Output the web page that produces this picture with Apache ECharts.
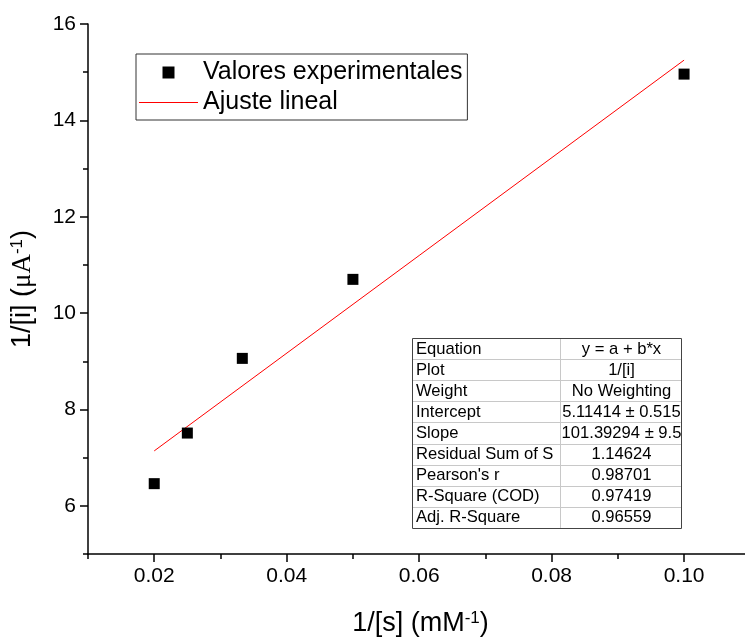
<!DOCTYPE html>
<html>
<head>
<meta charset="utf-8">
<script src="https://cdn.jsdelivr.net/npm/echarts@6/dist/echarts.min.js"></script>
<style>html,body{margin:0;padding:0;background:#fff}#c{width:745px;height:642px}</style>
</head>
<body>
<div id="c"></div>
<script>
// ---- data ----
const pointsX = [0.02, 0.025, 0.0333, 0.05, 0.10];
const pointsY = [6.46, 7.51, 9.06, 10.70, 14.96];
const fitX = [0.02, 0.10];
const fitY = [7.14, 15.25];
const xMajorTicks = [0.02, 0.04, 0.06, 0.08, 0.10];
const xMinorTicks = [0.01, 0.03, 0.05, 0.07, 0.09];
const yMajorTicks = [6, 8, 10, 12, 14, 16];
const yMinorTicks = [5, 7, 9, 11, 13, 15];
const seriesNames = ['Valores experimentales', 'Ajuste lineal'];
const tableLabels = ['Equation', 'Plot', 'Weight', 'Intercept', 'Slope', 'Residual Sum of S', "Pearson's r", 'R-Square (COD)', 'Adj. R-Square'];
const tableValues = ['y = a + b*x', '1/[i]', 'No Weighting', '5.11414 \u00b1 0.515', '101.39294 \u00b1 9.5', '1.14624', '0.98701', '0.97419', '0.96559'];
// visible x range (the axis runs on past the right edge of the picture)
const xMin = 0.01, xMax = 0.1092;

const FONT = "'Liberation Sans', Arial, sans-serif";
const chart = echarts.init(document.getElementById('c'), null, {renderer: 'canvas'});

// table graphic
const tX0 = 412, tX1 = 560, tX2 = 681, tY0 = 338, rowH = 21.1;
const tableEls = [];
tableEls.push({type: 'rect', shape: {x: tX0, y: tY0, width: tX2 - tX0, height: rowH * tableLabels.length}, style: {fill: '#fff', stroke: 'none'}});
for (let i = 1; i < tableLabels.length; i++) {
  const yy = Math.round(tY0 + rowH * i) + 0.5;
  tableEls.push({type: 'line', shape: {x1: tX0, y1: yy, x2: tX2, y2: yy}, style: {stroke: '#c8c8c8', lineWidth: 1}});
}
tableEls.push({type: 'line', shape: {x1: tX1 + 0.5, y1: tY0, x2: tX1 + 0.5, y2: tY0 + rowH * tableLabels.length}, style: {stroke: '#c8c8c8', lineWidth: 1}});
tableEls.push({type: 'rect', shape: {x: tX0 + 0.5, y: tY0 + 0.5, width: tX2 - tX0, height: Math.round(rowH * tableLabels.length)}, style: {fill: 'none', stroke: '#444', lineWidth: 1}});
tableLabels.forEach((lab, i) => {
  const cy = tY0 + rowH * i + rowH / 2 + 0.5;
  tableEls.push({type: 'text', x: tX0 + 4, y: cy, style: {text: lab, fill: '#000', font: '16.6px ' + FONT, textAlign: 'left', textVerticalAlign: 'middle'}});
  tableEls.push({type: 'text', x: (tX1 + tX2) / 2 + 1, y: cy, style: {text: tableValues[i], fill: '#000', font: '16.6px ' + FONT, textAlign: 'center', textVerticalAlign: 'middle'}});
});

const axisLineStyle = {color: '#000', width: 1.5};
const supRich = {
  sup: {fontSize: 17, verticalAlign: 'top', lineHeight: 17, fontFamily: FONT, color: '#000'},
  mu: {fontSize: 27, fontFamily: "'Liberation Serif', 'Times New Roman', serif", color: '#000'}
};

chart.setOption({
  animation: false,
  backgroundColor: '#fff',
  textStyle: {fontFamily: FONT},
  grid: {left: 88, top: 24, right: 0, height: 531, containLabel: false},
  legend: {
    data: [
      {name: seriesNames[0], icon: 'path://M0,0L10,0L10,10L0,10Z'},
      {name: seriesNames[1], icon: 'path://M0,0L60,0L60,1L0,1Z'}
    ],
    orient: 'vertical',
    left: 136, top: 54,
    padding: [6, 5, 5, 3],
    itemGap: 5,
    itemWidth: 59, itemHeight: 12,
    symbolKeepAspect: true,
    borderColor: '#333', borderWidth: 1,
    selectedMode: false,
    textStyle: {fontSize: 25, lineHeight: 25, color: '#000', fontFamily: FONT}
  },
  xAxis: [{
    type: 'value', min: xMin, max: xMax, position: 'bottom',
    name: '1/[s] (mM{sup|-1})', nameLocation: 'middle', nameGap: 56,
    nameTextStyle: {fontSize: 27, color: '#000', fontFamily: FONT, rich: supRich, padding: [0, 0, 0, 8]},
    axisLine: {show: true, onZero: false, lineStyle: axisLineStyle},
    axisTick: {show: true, customValues: xMajorTicks, length: 8, lineStyle: axisLineStyle},
    axisLabel: {customValues: xMajorTicks, formatter: v => v.toFixed(2), fontSize: 21, color: '#000', margin: 12, fontFamily: FONT},
    splitLine: {show: false}
  }, {
    type: 'value', min: xMin, max: xMax, position: 'bottom', offset: 0,
    axisLine: {show: false, onZero: false},
    axisTick: {show: true, customValues: xMinorTicks, length: 5, lineStyle: axisLineStyle},
    axisLabel: {show: false},
    splitLine: {show: false}
  }],
  yAxis: [{
    type: 'value', min: 5, max: 16, position: 'left',
    name: '1/[i] ({mu|\u03bcA}{sup|-1})', nameLocation: 'middle', nameGap: 52, nameRotate: 90,
    nameTextStyle: {fontSize: 27, color: '#000', fontFamily: FONT, rich: supRich},
    axisLine: {show: true, onZero: false, lineStyle: axisLineStyle},
    axisTick: {show: true, customValues: yMajorTicks, length: 8, lineStyle: axisLineStyle},
    axisLabel: {customValues: yMajorTicks, fontSize: 21, color: '#000', margin: 12, fontFamily: FONT},
    splitLine: {show: false}
  }, {
    type: 'value', min: 5, max: 16, position: 'left', offset: 0,
    axisLine: {show: false, onZero: false},
    axisTick: {show: true, customValues: yMinorTicks, length: 5, lineStyle: axisLineStyle},
    axisLabel: {show: false},
    splitLine: {show: false}
  }],
  series: [{
    name: seriesNames[0], type: 'scatter', xAxisIndex: 0, yAxisIndex: 0,
    symbol: 'rect', symbolSize: 11,
    itemStyle: {color: '#000', opacity: 1},
    data: pointsX.map((x, i) => [x, pointsY[i]]),
    z: 3
  }, {
    name: seriesNames[1], type: 'line', xAxisIndex: 0, yAxisIndex: 0,
    symbol: 'none', showSymbol: false,
    lineStyle: {color: '#ff0000', width: 1},
    itemStyle: {color: '#ff0000'},
    data: fitX.map((x, i) => [x, fitY[i]]),
    z: 2
  }],
  graphic: {elements: tableEls}
});
</script>
</body>
</html>
